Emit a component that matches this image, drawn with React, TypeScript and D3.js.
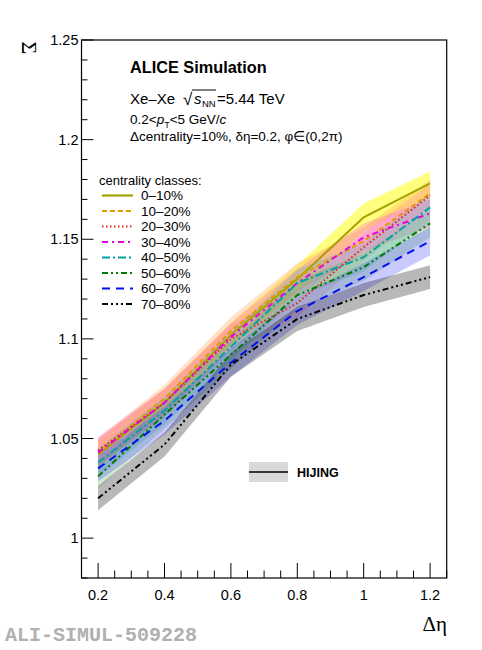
import React from 'react';
import * as d3 from 'd3';

// Delta eta bins
const deltaEta = [0.2, 0.4, 0.6, 0.8, 1.0, 1.2];

const centralityClasses = ['0–10%', '10–20%', '20–30%', '30–40%', '40–50%', '50–60%', '60–70%', '70–80%'];

// Sigma values per centrality class
const sigma0_10 = [1.042, 1.068, 1.102, 1.130, 1.161, 1.178];
const sigma10_20 = [1.043, 1.070, 1.104, 1.131, 1.149, 1.173];
const sigma20_30 = [1.044, 1.068, 1.100, 1.118, 1.146, 1.172];
const sigma30_40 = [1.043, 1.068, 1.101, 1.128, 1.151, 1.163];
const sigma40_50 = [1.038, 1.064, 1.096, 1.128, 1.141, 1.166];
const sigma50_60 = [1.031, 1.062, 1.092, 1.122, 1.136, 1.158];
const sigma60_70 = [1.035, 1.059, 1.088, 1.114, 1.131, 1.149];
const sigma70_80 = [1.020, 1.047, 1.087, 1.110, 1.122, 1.131];

// band half-widths
const err0_10 = [0.007, 0.007, 0.006, 0.007, 0.007, 0.006];
const err10_20 = [0.007, 0.007, 0.007, 0.007, 0.007, 0.007];
const err20_30 = [0.007, 0.007, 0.007, 0.007, 0.007, 0.006];
const err30_40 = [0.007, 0.007, 0.007, 0.007, 0.007, 0.007];
const err40_50 = [0.007, 0.007, 0.007, 0.007, 0.007, 0.007];
const err50_60 = [0.006, 0.007, 0.007, 0.007, 0.007, 0.007];
const err60_70 = [0.0065, 0.007, 0.007, 0.007, 0.007, 0.007];
const err70_80 = [0.006, 0.006, 0.006, 0.006, 0.006, 0.006];

const seriesValues = [sigma0_10, sigma10_20, sigma20_30, sigma30_40, sigma40_50, sigma50_60, sigma60_70, sigma70_80];
const seriesErrors = [err0_10, err10_20, err20_30, err30_40, err40_50, err50_60, err60_70, err70_80];

const lineColors = ['#a3a300', '#e09a00', '#e8201c', '#e600e6', '#00a3a3', '#007a00', '#0010ee', '#000000'];
const bandColors = ['#ffff00', '#ffa050', '#ff80a0', '#ff50e0', '#40b8b8', '#50a850', '#4040ff', '#000000'];
const bandOpacity = [0.5, 0.3, 0.25, 0.28, 0.28, 0.28, 0.28, 0.28];
const dashes = ['none', '5,3', '1.5,2.5', '6,4,2,4', '8,3,2,3', '6,3,2,3,2,3', '8,6', '6,3,2,3,2,3,2,3'];

const yTickValues = d3.range(98, 126).map((v) => v / 100);
const xTickValues = d3.range(3, 26).map((v) => v / 20);

const W = 482;
const H = 650;
const left = 81.5;
const right = 446.7;
const top = 40;
const bottom = 578;

const sans = '"Liberation Sans", Arial, sans-serif';
const serif = '"Liberation Serif", "Times New Roman", serif';

const App: React.FC = () => {
  const x = d3.scaleLinear().domain([0.15, 1.25]).range([left, right]);
  const y = d3.scaleLinear().domain([0.98, 1.25]).range([bottom, top]);

  const line = d3
    .line<number>()
    .x((_, i) => x(deltaEta[i]))
    .y((d) => y(d));

  const band = (vals: number[], errs: number[]) =>
    d3
      .area<number>()
      .x((_, i) => x(deltaEta[i]))
      .y0((d, i) => y(d - errs[i]))
      .y1((d, i) => y(d + errs[i]))(vals) as string;

  const legendY = d3.scaleLinear().domain([0, 1]).range([195.5, 211]);

  return (
    <svg width={W} height={H} style={{ position: 'absolute', left: 0, top: 0, background: '#fff' }}>
      <rect x={0} y={0} width={W} height={H} fill="#fff" />

      {/* bands */}
      {seriesValues.map((vals, i) => (
        <path key={'b' + i} d={band(vals, seriesErrors[i])} fill={bandColors[i]} fillOpacity={bandOpacity[i]} stroke="none" />
      ))}

      {/* lines */}
      {seriesValues.map((vals, i) => (
        <path
          key={'l' + i}
          d={line(vals) as string}
          fill="none"
          stroke={lineColors[i]}
          strokeWidth={2}
          strokeDasharray={dashes[i]}
        />
      ))}

      {/* frame */}
      <rect x={left} y={top} width={right - left} height={bottom - top} fill="none" stroke="#000" strokeWidth={1.2} />

      {/* y axis */}
      {yTickValues.map((v) => {
        const major = Math.round(v * 100) % 5 === 0;
        return (
          <g key={'y' + v}>
            <line x1={left} x2={left + (major ? 12 : 6)} y1={y(v)} y2={y(v)} stroke="#000" strokeWidth={1} />
            {major && (
              <text x={left - 3} y={y(v)} dy="0.35em" textAnchor="end" fontFamily={sans} fontSize={14.5}>
                {String(+v.toFixed(2))}
              </text>
            )}
          </g>
        );
      })}

      {/* x axis */}
      {xTickValues.map((v) => {
        const major = Math.round(v * 100) % 20 === 0;
        return (
          <g key={'x' + v}>
            <line x1={x(v)} x2={x(v)} y1={bottom} y2={bottom - (major ? 15 : 7.5)} stroke="#000" strokeWidth={1} />
            {major && (
              <text x={x(v)} y={600} textAnchor="middle" fontFamily={sans} fontSize={14.5}>
                {String(+v.toFixed(1))}
              </text>
            )}
          </g>
        );
      })}

      {/* axis titles */}
      <text
        transform="translate(30,48) rotate(90)"
        textAnchor="middle"
        dy="0.35em"
        fontFamily={serif}
        fontSize={22}
      >
        Σ
      </text>
      <text x={447} y={631} textAnchor="end" fontFamily={serif} fontSize={21}>
        Δη
      </text>

      {/* header */}
      <text x={130} y={73} fontFamily={sans} fontSize={16.3} fontWeight="bold">
        ALICE Simulation
      </text>
      <g fontFamily={sans} fontSize={15}>
        <text x={130} y={104}>Xe–Xe</text>
        <text x={183} y={105} fontSize={17}>√</text>
        <line x1={192} x2={216} y1={90} y2={90} stroke="#000" strokeWidth={1} />
        <text x={194} y={104} fontStyle="italic">s</text>
        <text x={202} y={107} fontSize={9.5}>NN</text>
        <text x={217} y={104}>=5.44 TeV</text>
      </g>
      <g fontFamily={sans} fontSize={13.5}>
        <text x={130} y={124}>
          0.2&lt;<tspan fontStyle="italic">p</tspan>
          <tspan fontSize={9} dy={4}>T</tspan>
          <tspan dy={-4}>&lt;5 GeV/</tspan>
          <tspan fontStyle="italic">c</tspan>
        </text>
        <text x={130} y={141}>Δcentrality=10%, δη=0.2, φ∈(0,2π)</text>
      </g>

      {/* centrality legend */}
      <text x={99} y={185} fontFamily={sans} fontSize={13}>
        centrality classes:
      </text>
      {centralityClasses.map((c, i) => {
        const cy = legendY(i);
        return (
          <g key={'lg' + c}>
            <line x1={102} x2={133} y1={cy} y2={cy} stroke={lineColors[i]} strokeWidth={2.2} strokeDasharray={dashes[i]} />
            <text x={141} y={cy} dy="0.36em" fontFamily={sans} fontSize={13.5}>
              {c}
            </text>
          </g>
        );
      })}

      {/* HIJING legend */}
      <rect x={249} y={462} width={39} height={20} fill="#d9d9d9" />
      <line x1={249} x2={288} y1={472} y2={472} stroke="#000" strokeWidth={1.5} />
      <text x={297} y={472} dy="0.36em" fontFamily={sans} fontSize={12.5} fontWeight="bold">
        HIJING
      </text>

      {/* figure id */}
      <text x={5} y={641} fontFamily={'"Liberation Mono", "Courier New", monospace'} fontSize={20} fontWeight="bold" fill="#b0b0b0">
        ALI-SIMUL-509228
      </text>
    </svg>
  );
};

export default App;
